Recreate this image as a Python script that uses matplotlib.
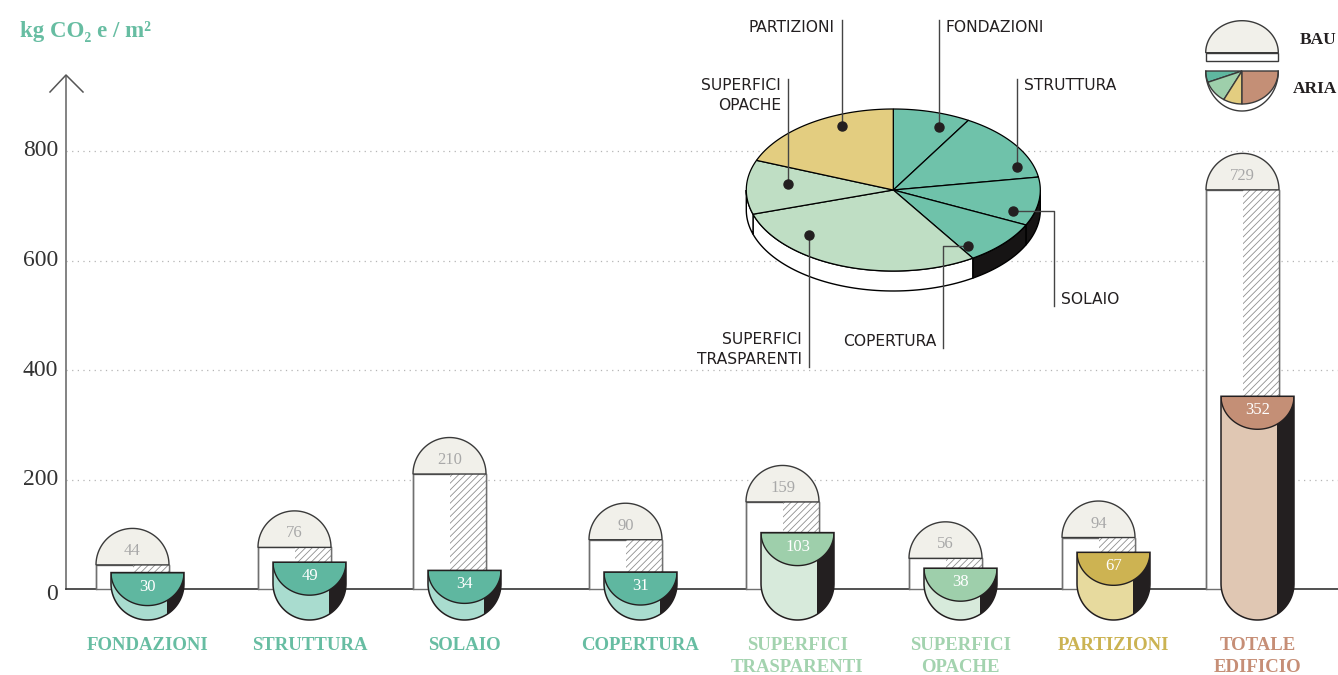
import numpy as np
import matplotlib
matplotlib.use("Agg")
import matplotlib.pyplot as plt
from matplotlib.patches import Polygon, Rectangle

# ---------------------------------------------------------------- data
categories = ["FONDAZIONI", "STRUTTURA", "SOLAIO", "COPERTURA",
              "SUPERFICI\nTRASPARENTI", "SUPERFICI\nOPACHE", "PARTIZIONI",
              "TOTALE\nEDIFICIO"]
baukasten = [44, 76, 210, 90, 159, 56, 94, 729]
aria = [30, 49, 34, 31, 103, 38, 67, 352]
y_ticks = [0, 200, 400, 600, 800]
pie_labels = ["FONDAZIONI", "STRUTTURA", "SOLAIO", "COPERTURA",
              "SUPERFICI\nTRASPARENTI", "SUPERFICI\nOPACHE", "PARTIZIONI"]
pie_values = aria[:7]
legend_labels = ["BAU", "ARIA"]

# ---------------------------------------------------------------- style
palette = {
    "teal":  dict(cap="#5fb7a0", body="#a9dccf", text="#67bda2", pie="#6fc2aa", side="#161414"),
    "green": dict(cap="#9ecfab", body="#d7eadb", text="#a3d3af", pie="#bfdec4", side="white"),
    "gold":  dict(cap="#cdb352", body="#e7da9e", text="#cbb352", pie="#e3cd80", side="white"),
    "clay":  dict(cap="#c48f76", body="#e0c7b3", text="#c68e76", pie="#c48f76", side="white"),
}
groups = ["teal", "teal", "teal", "teal", "green", "green", "gold", "clay"]
DARK = "#231f20"
DOME = "#f1f0ea"
SERIF = ["Liberation Serif", "DejaVu Serif"]
SANS = ["DejaVu Sans"]

plt.rcParams["hatch.linewidth"] = 0.6

# ---------------------------------------------------------------- canvas
FIG_W, FIG_H = 1338, 675
BASE = 589          # pixel row of the zero line
PX = 0.5475         # pixels per kg CO2e/m2
K = 1.0 / PX        # data units per vertical pixel


def yv(p):
    """pixel row -> value on the y scale"""
    return (BASE - p) / PX


def arc(xc, yc, rx, ry, t0, t1, n=80):
    t = np.radians(np.linspace(t0, t1, n))
    return np.column_stack([xc + rx * np.cos(t), yc + ry * np.sin(t)])


fig = plt.figure(figsize=(FIG_W / 100, FIG_H / 100), dpi=100)
ax = fig.add_axes([0, 0, 1, 1])
ax.set_xlim(0, FIG_W)
ax.set_ylim(yv(FIG_H), yv(0))
ax.axis("off")

AX_X = 66

# grid, ticks, axis
for v in y_ticks[1:]:
    ax.plot([AX_X, FIG_W], [v, v], ls=(0, (1, 3.5)), color="#b5b5b5", lw=0.9, zorder=1)
for v in y_ticks:
    ax.text(58, v + (-6 * K if v == 0 else 0), str(v), ha="right", va="center",
            family=SERIF, fontsize=17, color="#333333")
ax.plot([AX_X, AX_X], [0, yv(76)], color="#7a7a7a", lw=1.3, zorder=2)
ax.plot([AX_X - 16, AX_X, AX_X + 17], [yv(92), yv(75), yv(92)], color="#555555", lw=1.1, zorder=2)
ax.plot([AX_X, FIG_W], [0, 0], color="#333333", lw=1.2, zorder=2)

ax.text(20, yv(32), "kg CO\u2082 e / m\u00b2", ha="left", va="center",
        family=SERIF, fontsize=16.5, fontweight="bold", color="#67bda2")

# ---------------------------------------------------------------- bar pairs
group_left = [96, 258, 413, 589, 746, 909, 1062, 1206]
W = 73
R = W / 2
SHIFT = 15
CAP_DEPTH = 33
STRIP = 17
CENTER_ROW = 583.5


def multiline(x, first_row, text, step, **kw):
    for i, line in enumerate(text.split("\n")):
        ax.text(x, yv(first_row + i * step), line, **kw)


for i, (name, b, a, g) in enumerate(zip(categories, baukasten, aria, groups)):
    c = palette[g]
    xl = group_left[i]
    xcr = xl + R

    # baukasten column: white left half, hatched right half, dome on top
    ax.add_patch(Rectangle((xl, 0), W, b, fc="white", ec="#707070", lw=1.0, zorder=3))
    ax.add_patch(Rectangle((xcr, 0), R, b, fc="white", ec="#8f8f8f", hatch="/////",
                           lw=0, zorder=3.1))
    ax.plot([xl, xl], [0, b], color="#707070", lw=1.0, zorder=3.2)
    ax.plot([xl + W, xl + W], [0, b], color="#707070", lw=1.0, zorder=3.2)
    dome = arc(xcr, b, R, R * K, 0, 180)
    ax.add_patch(Polygon(dome, closed=True, fc=DOME, ec="#3a3a3a", lw=1.0, zorder=3.3))
    ax.text(xcr, b + 14 * K, str(b), ha="center", va="center", family=SERIF,
            fontsize=12, color="#a8a8a8", zorder=3.4)

    # aria shape: flat top, rounded bottom
    axl = xl + SHIFT
    axr = axl + W
    axc = axl + R
    cy = yv(CENTER_ROW)
    outline = np.vstack([[[axl, a], [axr, a], [axr, cy]],
                         arc(axc, cy, R, R * K, 0, -180),
                         [[axl, cy]]])
    body = Polygon(outline, closed=True, fc=c["body"], ec="none", zorder=4)
    ax.add_patch(body)
    strip = Rectangle((axr - STRIP, yv(650)), STRIP, a - yv(650), fc=DARK, ec="none", zorder=4.1)
    ax.add_patch(strip)
    strip.set_clip_path(body)
    cap = Polygon(arc(axc, a, R, CAP_DEPTH * K, 0, -180), closed=True,
                  fc=c["cap"], ec=DARK, lw=1.0, zorder=4.2)
    ax.add_patch(cap)
    cap.set_clip_path(body)
    ax.add_patch(Polygon(outline, closed=True, fill=False, ec=DARK, lw=1.1, zorder=4.3))
    ax.text(axc, a - 14 * K, str(a), ha="center", va="center", family=SERIF,
            fontsize=12, color="white", zorder=4.4)

    multiline(axc, 646, name, 22, ha="center", va="center", family=SERIF,
              fontsize=13.5, fontweight="bold", color=c["text"])

# ---------------------------------------------------------------- pie
PCX, PCY = 893.3, yv(190)
PRX, PRY = 147, 81 * K
DEPTH = 20 * K
total = sum(pie_values)
bounds = 90 - np.concatenate([[0], np.cumsum(pie_values)]) / total * 360
pie_groups = groups[:7]

# side band (only the front half is visible)
for j in range(7):
    hi, lo = bounds[j], bounds[j + 1]
    s, e = min(hi, 0), max(lo, -180)
    if s <= e:
        continue
    top = arc(PCX, PCY, PRX, PRY, s, e, 60)
    bot = arc(PCX, PCY - DEPTH, PRX, PRY, e, s, 60)
    ax.add_patch(Polygon(np.vstack([top, bot]), closed=True,
                         fc=palette[pie_groups[j]]["side"], ec="black", lw=1.0, zorder=5))

for j in range(7):
    pts = np.vstack([[[PCX, PCY]], arc(PCX, PCY, PRX, PRY, bounds[j], bounds[j + 1], 80)])
    ax.add_patch(Polygon(pts, closed=True, fc=palette[pie_groups[j]]["pie"],
                         ec="black", lw=0.9, zorder=6))

# marker position inside each slice (fraction of the sweep, fraction of radius)
dot_frac = [0.70, 0.81, 0.765, 0.89, 0.747, 0.59, 0.65]
dot_rad = [0.84, 0.89, 0.855, 0.855, 0.80, 0.72, 0.86]
# leader routing: ("up"/"down", end row) or ("elbow", column, end row)
leaders = [("up", 20), ("up", 79), ("elbow", 1054, 306), ("elbow", 943, 348),
           ("down", 367), ("up", 79), ("up", 20)]
label_side = ["right", "right", "right", "left", "left", "left", "left"]
label_row = [27, 85, 300, 341, 340, 85, 27]

for j in range(7):
    ang = bounds[j] + dot_frac[j] * (bounds[j + 1] - bounds[j])
    t = np.radians(ang)
    dx = PCX + dot_rad[j] * PRX * np.cos(t)
    dy = PCY + dot_rad[j] * PRY * np.sin(t)
    ld = leaders[j]
    if ld[0] in ("up", "down"):
        ax.plot([dx, dx], [dy, yv(ld[1])], color="#444444", lw=1.0, zorder=7)
        lx = dx
    else:
        ax.plot([dx, ld[1], ld[1]], [dy, dy, yv(ld[2])], color="#444444", lw=1.0, zorder=7)
        lx = ld[1]
    ax.plot(dx, dy, "o", ms=6.5, color=DARK, zorder=8)
    if label_side[j] == "right":
        tx, ha = lx + 7, "left"
    else:
        tx, ha = lx - 7, "right"
    multiline(tx, label_row[j], pie_labels[j], 20, ha=ha, va="center",
              family=SANS, fontsize=11.2, color=DARK)

# ---------------------------------------------------------------- legend
LX0, LX1 = 1205.7, 1278.3
LC = (LX0 + LX1) / 2
LR = (LX1 - LX0) / 2
ax.add_patch(Polygon(arc(LC, yv(52.7), LR, 32 * K, 0, 180), closed=True,
                     fc=DOME, ec="#3a3a3a", lw=1.0, zorder=5))
ax.add_patch(Rectangle((LX0, yv(60.7)), LX1 - LX0, 8 * K, fc="white",
                       ec="#3a3a3a", lw=1.0, zorder=5))
swatch_spans = [20, 40, 30, 90]
swatch_cols = [palette["teal"]["cap"], palette["green"]["cap"],
               palette["gold"]["pie"], palette["clay"]["cap"]]
a0 = 180
for span, col in zip(swatch_spans, swatch_cols):
    pts = np.vstack([[[LC, yv(71)]], arc(LC, yv(71), LR, 33 * K, a0, a0 + span, 40)])
    ax.add_patch(Polygon(pts, closed=True, fc=col, ec="#3a3a3a", lw=1.0, zorder=5))
    a0 += span
outer = arc(LC, yv(71), LR, 40 * K, 180, 360)
ax.plot(outer[:, 0], outer[:, 1], color="#3a3a3a", lw=1.0, zorder=5)
ax.text(1300, yv(40), legend_labels[0], ha="left", va="center", family=SERIF,
        fontsize=12.5, fontweight="bold", color=DARK)
ax.text(1293, yv(89), legend_labels[1], ha="left", va="center", family=SERIF,
        fontsize=12.5, fontweight="bold", color=DARK)

fig.savefig("out.png", dpi=100)
